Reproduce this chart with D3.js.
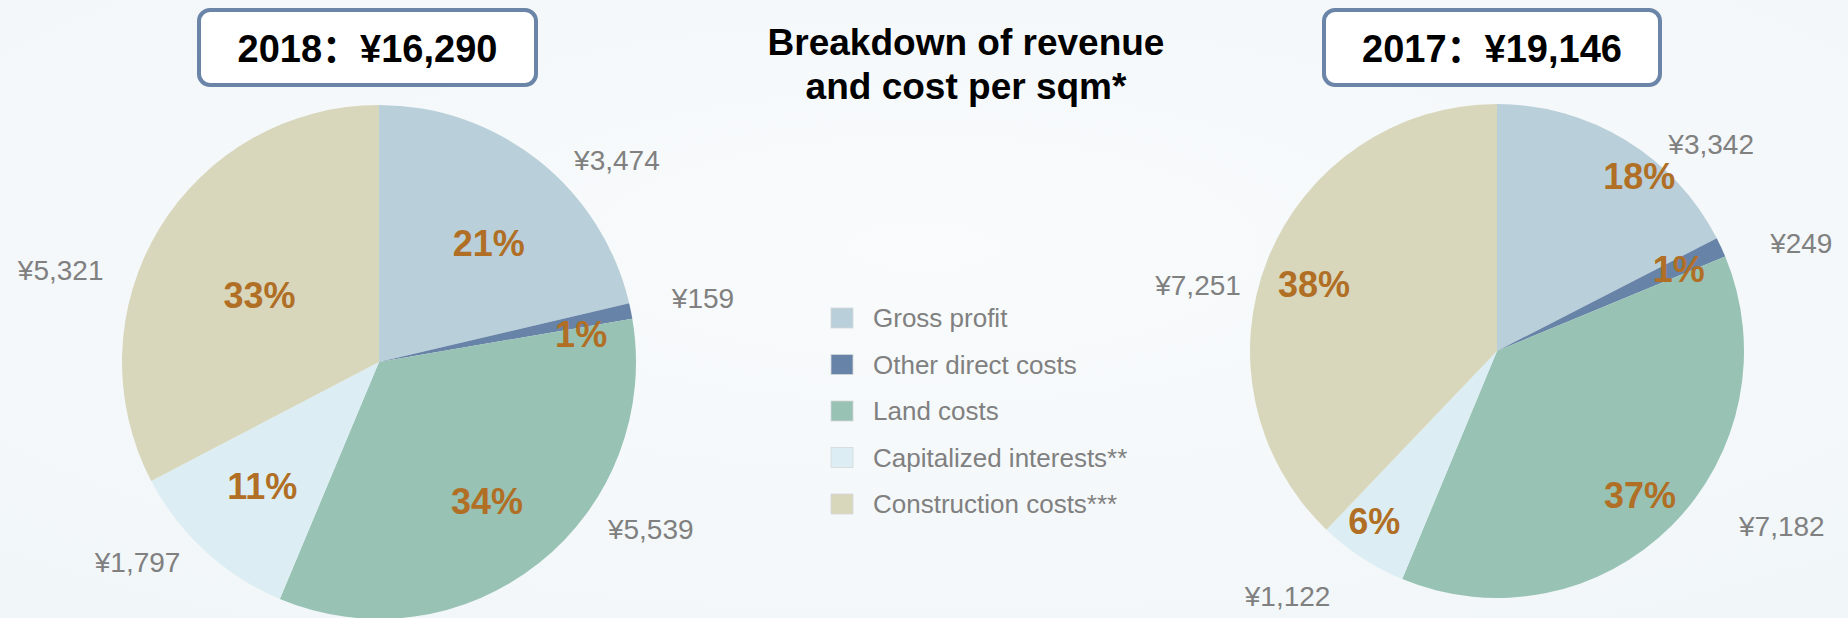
<!DOCTYPE html>
<html>
<head>
<meta charset="utf-8">
<script src="https://cdn.jsdelivr.net/npm/d3@7"></script>
<style>
  html, body { margin: 0; padding: 0; background: #f5f9fa; }
  svg { display: block; }
  text { font-family: "Liberation Sans", Arial, "Noto Sans CJK SC", sans-serif; }
</style>
</head>
<body>
<svg id="chart" width="1848" height="618"></svg>
<script>
// ---------- data ----------
const categories = ["Gross profit", "Other direct costs", "Land costs", "Capitalized interests**", "Construction costs***"];
const values2018 = [3474, 159, 5539, 1797, 5321];
const values2017 = [3342, 249, 7182, 1122, 7251];
const percentLabels2018 = ["21%", "1%", "34%", "11%", "33%"];
const percentLabels2017 = ["18%", "1%", "37%", "6%", "38%"];
const totalLabels = ["2018：¥16,290", "2017：¥19,146"];
const titleLines = ["Breakdown of revenue", "and cost per sqm*"];

// ---------- styles / layout ----------
const colors = ["#b9cfd9", "#6883a8", "#98c2b4", "#dceef3", "#d8d7bc"];
const pctColor = "#b06f25";
const valColor = "#808080";

const W = 1848, H = 618;
const svg = d3.select("#chart");

// background
const defs = svg.append("defs");
const bg = defs.append("radialGradient").attr("id", "bg").attr("cx", "50%").attr("cy", "40%").attr("r", "75%");
bg.append("stop").attr("offset", "0%").attr("stop-color", "#f9fbfc");
bg.append("stop").attr("offset", "100%").attr("stop-color", "#f1f6f8");
svg.append("rect").attr("width", W).attr("height", H).attr("fill", "url(#bg)");

const pies = [
  {
    values: values2018, pct: percentLabels2018, total: totalLabels[0],
    cx: 379, cy: 362, r: 257,
    box: { x: 199, y: 10, w: 337, h: 75 },
    pctShift: [4.3, 3.6, 0.7, 0.7, -1.9], pctRad: [0.63, 0.794, 0.685, 0.663, 0.533],
    valShift: [11.3, 0.3, -20, 7.8, -15], valRad: [1.214, 1.285, 1.24, 1.22, 1.29]
  },
  {
    values: values2017, pct: percentLabels2017, total: totalLabels[1],
    cx: 1497, cy: 351, r: 247,
    box: { x: 1324, y: 10, w: 336, h: 75 },
    pctShift: [7.7, 0.5, 0.2, 2.7, -1.7], pctRad: [0.913, 0.808, 0.822, 0.849, 0.789],
    valShift: [14.6, 5.3, -13.5, 7.4, -9.3], valRad: [1.205, 1.307, 1.353, 1.305, 1.24]
  }
];

const color = d3.scaleOrdinal().domain(categories).range(colors);
const pieGen = d3.pie().sort(null).value(d => d.value);
const fmt = d3.format(",");

function polar(d, shiftDeg, rho) {
  const a = (d.startAngle + d.endAngle) / 2 + shiftDeg * Math.PI / 180;
  return [rho * Math.sin(a), -rho * Math.cos(a)];
}

pies.forEach(p => {
  const data = categories.map((c, i) => ({ cat: c, value: p.values[i], pct: p.pct[i] }));
  const arcs = pieGen(data);
  const arc = d3.arc().innerRadius(0).outerRadius(p.r);
  const g = svg.append("g").attr("transform", `translate(${p.cx},${p.cy})`);

  g.selectAll("path.slice").data(arcs).join("path")
    .attr("class", "slice")
    .attr("d", arc)
    .attr("fill", d => color(d.data.cat));

  // percentage labels
  g.selectAll("text.pct").data(arcs).join("text")
    .attr("class", "pct")
    .attr("transform", (d, i) => `translate(${polar(d, p.pctShift[i], p.pctRad[i] * p.r)})`)
    .attr("text-anchor", "middle")
    .attr("dy", "0.36em")
    .attr("font-size", 36)
    .attr("font-weight", "bold")
    .attr("fill", pctColor)
    .text(d => d.data.pct);

  // value labels
  g.selectAll("text.val").data(arcs).join("text")
    .attr("class", "val")
    .attr("transform", (d, i) => `translate(${polar(d, p.valShift[i], p.valRad[i] * p.r)})`)
    .attr("text-anchor", "middle")
    .attr("dy", "0.36em")
    .attr("font-size", 28)
    .attr("fill", valColor)
    .text(d => "¥" + fmt(d.data.value));

  // total box
  svg.append("rect")
    .attr("x", p.box.x).attr("y", p.box.y)
    .attr("width", p.box.w).attr("height", p.box.h)
    .attr("rx", 11).attr("ry", 11)
    .attr("fill", "#ffffff")
    .attr("stroke", "#6a85a8")
    .attr("stroke-width", 4);
  svg.append("text")
    .attr("x", p.box.x + p.box.w / 2)
    .attr("y", p.box.y + 52)
    .attr("text-anchor", "middle")
    .attr("font-size", 38)
    .attr("font-weight", "bold")
    .attr("fill", "#000")
    .text(p.total);
});

// title
svg.append("g").selectAll("text").data(titleLines).join("text")
  .attr("x", 966)
  .attr("y", (d, i) => 55 + i * 44)
  .attr("text-anchor", "middle")
  .attr("font-size", 37)
  .attr("font-weight", "bold")
  .attr("fill", "#000")
  .text(d => d);

// legend
const legendY = d3.scalePoint().domain(categories).range([318, 504]);
const lg = svg.append("g");
const items = lg.selectAll("g").data(categories).join("g")
  .attr("transform", d => `translate(831,${legendY(d)})`);
items.append("rect")
  .attr("x", 0).attr("y", -10)
  .attr("width", 22).attr("height", 20)
  .attr("fill", d => color(d))
  .attr("stroke", "#d4d8da")
  .attr("stroke-width", 0.8);
items.append("text")
  .attr("x", 42).attr("y", 9)
  .attr("font-size", 26)
  .attr("fill", valColor)
  .text(d => d);
</script>
</body>
</html>
